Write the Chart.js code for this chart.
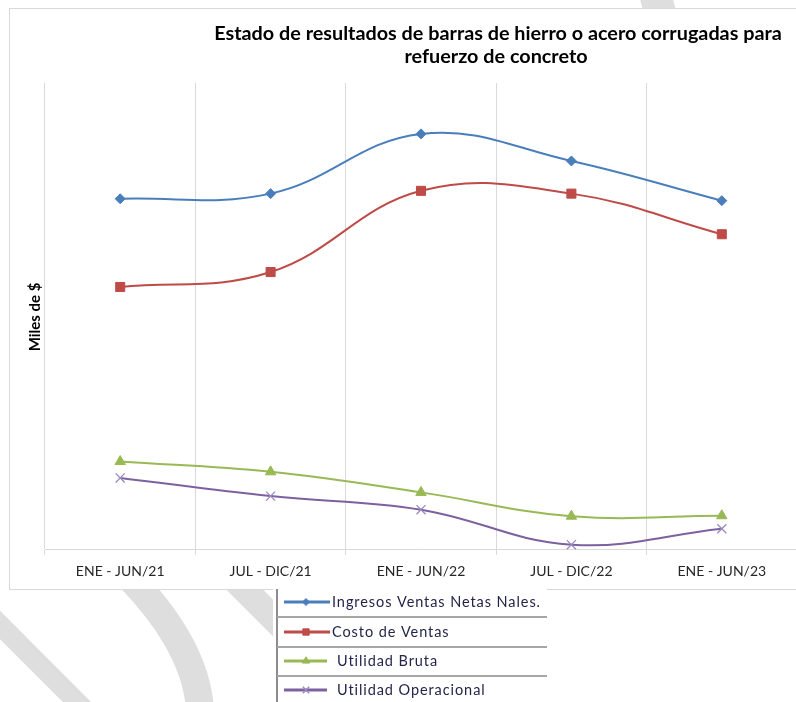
<!DOCTYPE html>
<html><head><meta charset="utf-8">
<script src="https://cdn.jsdelivr.net/npm/chart.js@4.4.1/dist/chart.umd.min.js"></script>
<style>html,body{margin:0;padding:0;background:#fff;overflow:hidden;width:796px;height:702px}
canvas{position:absolute;left:0;top:0}</style></head>
<body><canvas id="c" width="820" height="702"></canvas>
<script>
const categories = ['ENE - JUN/21','JUL - DIC/21','ENE - JUN/22','JUL - DIC/22','ENE - JUN/23'];
const ingresos = [75.2, 76.3, 89.1, 83.3, 74.8];
const costo = [56.3, 59.5, 76.9, 76.3, 67.6];
const utilBruta = [18.9, 16.7, 12.3, 7.2, 7.3];
const utilOper = [15.4, 11.5, 8.6, 1.1, 4.5];
const seriesNames = ['Ingresos Ventas Netas Nales.','Costo de Ventas','Utilidad Bruta','Utilidad Operacional'];
const titleLines = ['Estado de resultados de barras de hierro o acero corrugadas para','refuerzo de concreto'];
const yTitle = 'Miles de $';

const colors = ['#4a7ebb','#be4b48','#98b954','#7d60a0'];
const markerColors = ['#4a7ebb','#be4b48','#98b954','#9a88c0'];
const styles = ['rectRot','rect','triangle','crossRot'];
const radii = [5, 6.4, 6, 6.4];
const FONT = 'Lato, "Open Sans", sans-serif';

const bgPlugin = {
  id: 'bg',
  beforeDraw(chart) {
    const ctx = chart.ctx;
    ctx.save();
    ctx.fillStyle = '#fff';
    ctx.fillRect(0, 0, chart.width, chart.height);
    // watermark bands
    ctx.strokeStyle = '#dedede';
    ctx.lineCap = 'butt';
    ctx.lineWidth = 20;
    ctx.beginPath(); ctx.moveTo(-30, 595); ctx.lineTo(100, 725); ctx.stroke();
    ctx.lineWidth = 28;
    ctx.beginPath(); ctx.moveTo(95, 545); ctx.quadraticCurveTo(205, 640, 200, 725); ctx.stroke();
    ctx.lineWidth = 26;
    ctx.beginPath(); ctx.moveTo(215, 560); ctx.lineTo(310, 655); ctx.stroke();
    ctx.lineWidth = 32;
    ctx.beginPath(); ctx.moveTo(652, -20); ctx.lineTo(664, 30); ctx.stroke();
    // chart frame
    ctx.fillStyle = '#fff';
    ctx.fillRect(9, 8, 900, 581);
    ctx.strokeStyle = '#d9d9d9';
    ctx.lineWidth = 1;
    ctx.strokeRect(9.5, 8.5, 900, 581);
    ctx.restore();
  },
  afterDraw(chart) {
    const ctx = chart.ctx;
    ctx.save();
    // title
    ctx.fillStyle = '#000';
    ctx.textAlign = 'center';
    ctx.textBaseline = 'alphabetic';
    ctx.font = 'bold 18px ' + FONT;
    const w = ctx.measureText(titleLines[0]).width;
    const fs = 18 * 568 / w;
    ctx.font = 'bold ' + fs.toFixed(2) + 'px ' + FONT;
    ctx.fillText(titleLines[0], 498, 40);
    ctx.fillText(titleLines[1], 496, 63);
    // y title
    ctx.save();
    ctx.translate(35, 317);
    ctx.rotate(-Math.PI / 2);
    ctx.font = 'bold 15px ' + FONT;
    ctx.textBaseline = 'middle';
    ctx.fillText(yTitle, 0, 0);
    ctx.restore();
    // legend table
    ctx.fillStyle = '#fff';
    ctx.fillRect(273, 588, 274, 114);
    ctx.strokeStyle = '#8c8c8c';
    ctx.lineWidth = 2;
    ctx.beginPath(); ctx.moveTo(277, 589); ctx.lineTo(277, 702); ctx.stroke();
    ctx.strokeStyle = '#a6a6a6';
    [617, 647, 676].forEach(y => { ctx.beginPath(); ctx.moveTo(277, y); ctx.lineTo(547, y); ctx.stroke(); });
    const rowY = [602, 632, 661, 690];
    ctx.font = '14.5px ' + FONT;
    const lw = ctx.measureText(seriesNames[0]).width;
    const spacing = Math.max(0, (209 - lw) / seriesNames[0].length);
    chart.data.datasets.forEach((ds, i) => {
      const y = rowY[i];
      ctx.strokeStyle = colors[i];
      ctx.lineWidth = 3;
      ctx.beginPath(); ctx.moveTo(284, y); ctx.lineTo(i < 2 ? 330 : 327, y); ctx.stroke();
      ctx.fillStyle = markerColors[i];
      ctx.strokeStyle = markerColors[i];
      ctx.lineWidth = i === 3 ? 1.5 : 1;
      Chart.helpers.drawPoint(ctx, {pointStyle: styles[i], radius: radii[i] * 0.7, rotation: 0, borderWidth: ctx.lineWidth}, 306, y);
      ctx.fillStyle = '#24244a';
      ctx.textAlign = 'left';
      ctx.textBaseline = 'middle';
      ctx.font = '14.5px ' + FONT;
      ctx.letterSpacing = spacing.toFixed(2) + 'px';
      ctx.fillText(ds.label, i < 2 ? 332 : 337, y);
      ctx.letterSpacing = '0px';
    });
    ctx.restore();
  }
};

const data = [ingresos, costo, utilBruta, utilOper];
const chart = new Chart(document.getElementById('c'), {
  type: 'line',
  data: {
    labels: categories,
    datasets: data.map((d, i) => ({
      label: seriesNames[i],
      data: d,
      borderColor: colors[i],
      backgroundColor: markerColors[i],
      pointBackgroundColor: markerColors[i],
      pointBorderColor: markerColors[i],
      pointBorderWidth: i === 3 ? 1.3 : 1,
      pointStyle: styles[i],
      pointRadius: radii[i],
      borderWidth: 2,
      tension: 0.4,
      fill: false,
      clip: false
    }))
  },
  options: {
    responsive: false,
    animation: false,
    devicePixelRatio: 1,
    layout: { padding: { left: 45, right: 23, top: 83, bottom: 114.4 } },
    plugins: { legend: { display: false }, title: { display: false }, tooltip: { enabled: false } },
    scales: {
      x: {
        offset: true,
        grid: { offset: true, color: '#d9d9d9', lineWidth: 1, tickLength: 5, drawTicks: true },
        border: { color: '#d9d9d9', width: 1 },
        ticks: { color: '#262626', padding: 8, font: { family: FONT, size: 14 } }
      },
      y: { display: false, min: 0, max: 100 }
    }
  },
  plugins: [bgPlugin]
});
</script></body></html>
